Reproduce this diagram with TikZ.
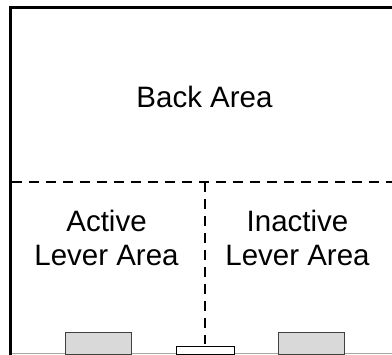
\documentclass[tikz,border=0pt]{standalone}
\usepackage{fontspec}
\setmainfont{Liberation Sans}
\begin{document}
\begin{tikzpicture}[x=1pt,y=-1pt,
  wall/.style={line width=3pt,black},
  floorline/.style={line width=1pt,black!35},
  divider/.style={line width=2pt,dash pattern=on 10pt off 7pt},
  label/.style={font=\fontsize{29.5}{34.5}\selectfont,align=center,inner sep=0pt},
  lever/.style={draw=black!75,fill=black!15,line width=1pt},
  magazine/.style={draw=black,fill=white,line width=1pt}]
\useasboundingbox (0,0) rectangle (392,355);
% frame
\coordinate (tl) at (10.5,7.5);
\coordinate (tr) at (392,7.5);
\coordinate (bl) at (10.5,355);
\coordinate (fl) at (12,354);
\coordinate (fr) at (392,354);
\draw[floorline] (fl) -- (fr);
\draw[wall] (tr) -- (tl) -- (bl);
% dividers
\coordinate (hl) at (12,182);
\coordinate (hr) at (392,182);
\coordinate (vt) at (205,182);
\coordinate (vb) at (205,344);
\draw[divider] (hl) -- (hr);
\draw[divider] (vt) -- (vb);
% labels
\node[label,anchor=base] (back) at (204.5,107.5) {Back Area};
\node[label,anchor=center] (active) at (106.5,238) {Active\\Lever Area};
\node[label,anchor=center] (inactive) at (297.5,238) {Inactive\\Lever Area};
% levers and magazine
\node[lever,minimum width=66pt,minimum height=22pt,inner sep=0pt,anchor=south west] (leftlever) at (65,355.5) {};
\node[lever,minimum width=66pt,minimum height=22pt,inner sep=0pt,anchor=south west] (rightlever) at (277.5,355.5) {};
\node[magazine,minimum width=58pt,minimum height=8pt,inner sep=0pt,anchor=south west] (mag) at (176,355.5) {};
\end{tikzpicture}
\end{document}
